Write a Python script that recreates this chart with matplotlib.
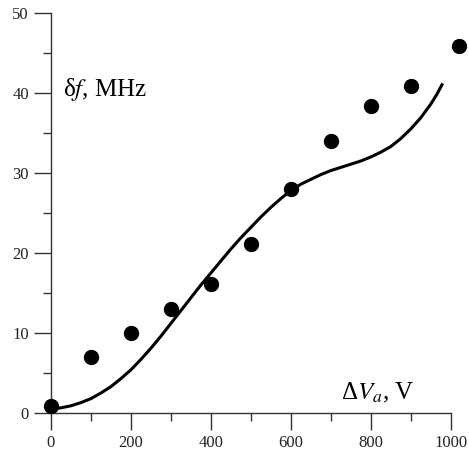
import numpy as np
import matplotlib
matplotlib.use('Agg')
from matplotlib import pyplot as plt
from matplotlib.ticker import MultipleLocator

plt.rcParams['font.family'] = ['Liberation Serif', 'DejaVu Serif']
plt.rcParams['mathtext.fontset'] = 'stix'

# measured points
dv = [0, 100, 200, 300, 400, 500, 600, 700, 800, 900, 1020]
df = [0.9, 7.0, 10.0, 13.0, 16.1, 21.1, 28.0, 34.0, 38.4, 40.9, 45.9]

# theory curve
dv_fit = [0, 25, 50, 75, 100, 125, 150, 175, 200, 225, 250, 275, 300, 325, 350,
          375, 400, 425, 450, 475, 500, 525, 550, 575, 600, 625, 650, 675, 700,
          725, 750, 775, 800, 825, 850, 875, 900, 925, 950, 965, 980]
df_fit = [0.5, 0.65, 0.9, 1.3, 1.8, 2.5, 3.3, 4.3, 5.4, 6.7, 8.1, 9.6, 11.2, 12.8,
          14.4, 16.0, 17.5, 19.0, 20.5, 21.9, 23.2, 24.5, 25.7, 26.8, 27.8, 28.6,
          29.2, 29.8, 30.3, 30.7, 31.1, 31.5, 32.0, 32.6, 33.3, 34.3, 35.5, 36.9,
          38.6, 39.8, 41.2]

fig = plt.figure(figsize=(4.69, 4.53), dpi=100)
ax = fig.add_axes([0.1087, 0.0883, 0.8523, 0.8830])

ax.plot(dv_fit, df_fit, color='black', lw=2.2, solid_capstyle='butt',
        solid_joinstyle='round')
ax.plot(dv, df, 'o', color='black', ms=10, clip_on=False, zorder=3)

ax.set_xlim(0, 1000)
ax.set_ylim(0, 50)
ax.xaxis.set_major_locator(MultipleLocator(200))
ax.xaxis.set_minor_locator(MultipleLocator(100))
ax.yaxis.set_major_locator(MultipleLocator(10))
ax.yaxis.set_minor_locator(MultipleLocator(5))

for s in ['top', 'right']:
    ax.spines[s].set_visible(False)
for s in ['left', 'bottom']:
    ax.spines[s].set_color('#333333')
    ax.spines[s].set_linewidth(1.0)

ax.tick_params(which='major', direction='out', length=12, width=1.0,
               color='#333333', labelsize=12, labelcolor='#222222', pad=4)
ax.tick_params(which='minor', direction='out', length=6, width=1.0, color='#333333')

ax.text(0.03, 0.81, r'δ$f$, MHz', transform=ax.transAxes, fontsize=18,
        va='center', ha='left')
ax.text(0.725, 0.05, r'Δ$V_a$, V', transform=ax.transAxes, fontsize=18,
        va='center', ha='left')

fig.savefig('out.png', dpi=100)
